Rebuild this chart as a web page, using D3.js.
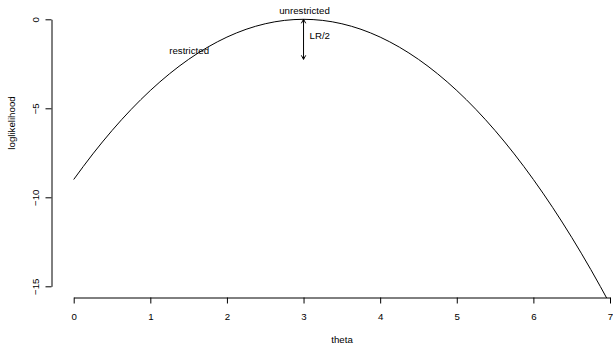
<!DOCTYPE html>
<html>
<head>
<meta charset="utf-8">
<script src="https://cdn.jsdelivr.net/npm/d3@7"></script>
<style>
  html, body { margin: 0; padding: 0; background: #fff; }
  svg { display: block; }
  text { font-family: "Liberation Sans", Arial, sans-serif; font-size: 9.7px; fill: #000; }
</style>
</head>
<body>
<svg id="chart" width="613" height="344"></svg>
<script>
// Data
const theta = [0, 0.25, 0.5, 0.75, 1, 1.25, 1.5, 1.75, 2, 2.25, 2.5, 2.75, 3,
               3.25, 3.5, 3.75, 4, 4.25, 4.5, 4.75, 5, 5.25, 5.5, 5.75, 6, 6.25, 6.5, 6.75, 7];
const loglik = [-9, -7.5625, -6.25, -5.0625, -4, -3.0625, -2.25, -1.5625, -1, -0.5625, -0.25, -0.0625, 0,
                -0.0625, -0.25, -0.5625, -1, -1.5625, -2.25, -3.0625, -4, -5.0625, -6.25, -7.5625, -9,
                -10.5625, -12.25, -14.0625, -16];
const xTicks = [0, 1, 2, 3, 4, 5, 6, 7];
const yTicks = [0, -5, -10, -15];
const unrestricted = { theta: 3, value: 0 };
const restricted = { theta: 1.5, value: -2.25 };

const svg = d3.select("#chart");
const x = d3.scaleLinear().domain([0, 7]).range([73.7, 610]);
const y = d3.scaleLinear().domain([0, -15]).range([19.3, 286.3]);

// clip region (plot region)
svg.append("defs").append("clipPath").attr("id", "clip")
  .append("rect").attr("x", 0).attr("y", 0).attr("width", 613).attr("height", 298);

// x axis
const xAxis = svg.append("g").attr("transform", "translate(0,297.5)")
  .call(d3.axisBottom(x).tickValues(xTicks).tickSize(6).tickSizeOuter(0).tickFormat(d3.format("d")));
xAxis.selectAll("path, line").attr("stroke", "#000");
xAxis.selectAll("text").attr("dy", null).attr("y", 22).style("font-size", "9.7px")
  .style("font-family", '"Liberation Sans", Arial, sans-serif');

// y axis
const yAxis = svg.append("g").attr("transform", "translate(51.5,0)")
  .call(d3.axisLeft(y).tickValues(yTicks).tickSize(6).tickSizeOuter(0).tickFormat(d => d < 0 ? "\u2212" + Math.abs(d) : d));
yAxis.selectAll("path, line").attr("stroke", "#000");
yAxis.selectAll("text")
  .attr("x", null).attr("dy", null)
  .attr("text-anchor", "middle")
  .attr("transform", "translate(-13,0) rotate(-90)")
  .style("font-size", "9.7px")
  .style("font-family", '"Liberation Sans", Arial, sans-serif');

// axis titles
svg.append("text").attr("x", 342).attr("y", 343).attr("text-anchor", "middle").text("theta");
svg.append("text").attr("transform", "translate(14.5,123) rotate(-90)").attr("text-anchor", "middle").text("loglikelihood");

// curve
const line = d3.line().x((d, i) => x(theta[i])).y(d => y(d)).curve(d3.curveMonotoneX);
svg.append("path").datum(loglik)
  .attr("clip-path", "url(#clip)")
  .attr("d", line)
  .attr("fill", "none").attr("stroke", "#000").attr("stroke-width", 1);

// LR/2 double arrow
const ax = x(unrestricted.theta);
const ay0 = y(unrestricted.value);
const ay1 = y(restricted.value);
const ah = 4, aw = 2.2;
svg.append("path")
  .attr("d", `M${ax},${ay0}L${ax},${ay1}` +
             `M${ax - aw},${ay0 + ah}L${ax},${ay0}L${ax + aw},${ay0 + ah}` +
             `M${ax - aw},${ay1 - ah}L${ax},${ay1}L${ax + aw},${ay1 - ah}`)
  .attr("fill", "none").attr("stroke", "#000").attr("stroke-width", 1);

// labels
svg.append("text").attr("x", x(unrestricted.theta) + 1).attr("y", y(unrestricted.value) - 5)
  .attr("text-anchor", "middle").text("unrestricted");
svg.append("text").attr("x", x(restricted.theta) + 0.5).attr("y", y(restricted.value) - 5)
  .attr("text-anchor", "middle").text("restricted");
svg.append("text").attr("x", ax + 6).attr("y", y((unrestricted.value + restricted.value) / 2) - 0.5)
  .attr("text-anchor", "start").text("LR/2");
</script>
</body>
</html>
